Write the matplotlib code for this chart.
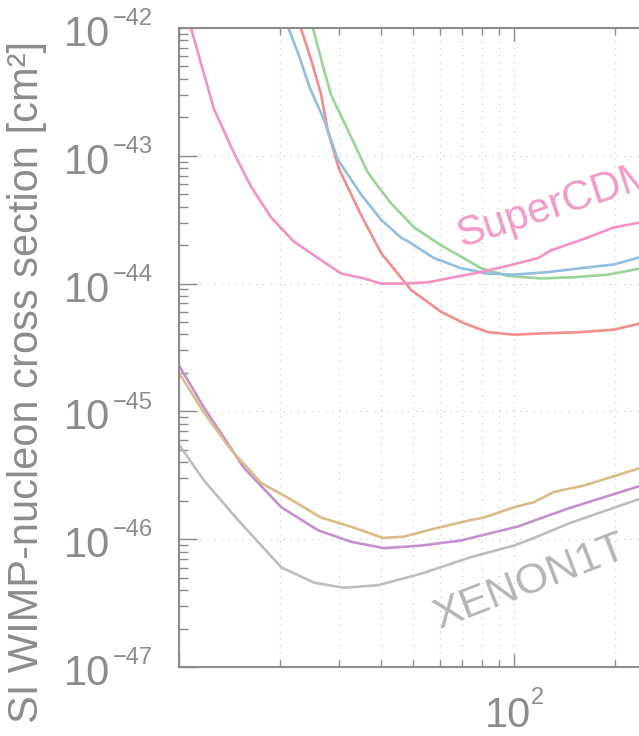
import numpy as np
import matplotlib
matplotlib.use("Agg")
import matplotlib.pyplot as plt
from matplotlib.ticker import FixedLocator, LogLocator, NullFormatter

plt.rcParams["font.family"] = ["Liberation Sans", "DejaVu Sans"]

GREY = "#8c8c8c"

# WIMP mass [GeV] and log10 of the SI cross section [cm^2]
cdms_mass = [10.86, 12.7, 14.6, 16.4, 18.8, 22.0, 26.0, 30.4, 35.7, 40.1, 46.0,
             55.4, 66.2, 79.7, 96.0, 118, 129, 158, 199, 240]
cdms_logsig = [-42.0, -42.63, -42.98, -43.24, -43.48, -43.67, -43.80, -43.92, -43.96,
               -44.0, -44.0, -43.99, -43.95, -43.91, -43.86, -43.80, -43.74, -43.66,
               -43.56, -43.52]

blue_mass = [21.2, 22.7, 24.5, 27.1, 29.8, 34.9, 40.1, 46.0, 48.3, 57.7, 69.5, 79.7,
             81.4, 100, 126.4, 158, 199, 240]
blue_logsig = [-42.0, -42.20, -42.46, -42.72, -43.03, -43.30, -43.50, -43.64, -43.67,
               -43.80, -43.88, -43.91, -43.92, -43.93, -43.91, -43.88, -43.85, -43.79]

green_mass = [25.1, 27.1, 28.4, 32.6, 36.6, 39.3, 42.9, 50.3, 60.5, 72.9, 79.7, 96.0,
              120.4, 151, 190.8, 240]
green_logsig = [-42.0, -42.33, -42.52, -42.85, -43.13, -43.24, -43.37, -43.56, -43.70,
                -43.82, -43.88, -43.94, -43.96, -43.95, -43.93, -43.88]

red_mass = [23.1, 24.8, 26.5, 27.8, 30.0, 34.9, 40.1, 49.3, 60.5, 70.9, 83.6, 100,
            120.4, 158, 199, 240]
red_logsig = [-42.0, -42.25, -42.51, -42.80, -43.10, -43.46, -43.76, -44.05, -44.22,
              -44.31, -44.38, -44.40, -44.39, -44.38, -44.36, -44.31]

tan_mass = [10.0, 11.87, 14.3, 17.6, 21.6, 26.5, 33.3, 40.6, 46.9, 59.3, 74.4, 81.4,
            100, 114.7, 131.6, 161.8, 240]
tan_logsig = [-44.70, -45.01, -45.30, -45.56, -45.69, -45.83, -45.91, -45.99, -45.98,
              -45.91, -45.85, -45.83, -45.75, -45.71, -45.63, -45.58, -45.44]

purple_mass = [10.0, 11.87, 13.35, 15.6, 20.2, 26.0, 32.6, 40.9, 52.8, 69.5, 102.8,
               145, 240]
purple_logsig = [-44.64, -44.97, -45.17, -45.44, -45.75, -45.93, -46.02, -46.07,
                 -46.05, -46.01, -45.90, -45.76, -45.58]

xenon_mass = [10.0, 11.87, 15.0, 20.2, 25.3, 31.1, 39.3, 52.8, 74.4, 100, 114.7, 148, 240]
xenon_logsig = [-45.26, -45.54, -45.85, -46.22, -46.34, -46.38, -46.36, -46.27, -46.14,
                -46.05, -45.99, -45.87, -45.68]

curves = [
    (xenon_mass, xenon_logsig, "#bdbdbd"),
    (purple_mass, purple_logsig, "#c68fd0"),
    (tan_mass, tan_logsig, "#d9bc8c"),
    (red_mass, red_logsig, "#f08e8e"),
    (green_mass, green_logsig, "#9ad49a"),
    (blue_mass, blue_logsig, "#92bfdf"),
    (cdms_mass, cdms_logsig, "#f292c6"),
]

y_decades = [-47, -46, -45, -44, -43, -42]

fig = plt.figure(figsize=(6.39, 7.36), dpi=100)
# axes run past the right edge of the figure, like the cropped original
ax = fig.add_axes([179 / 639, 69 / 736, 670 / 639, 639 / 736])

for m, s, c in curves:
    ax.plot(m, 10.0 ** np.array(s), color=c, lw=1.9,
            solid_capstyle="round", solid_joinstyle="round")

ax.set_xscale("log")
ax.set_yscale("log")
ax.set_xlim(10, 1000)
ax.set_ylim(1e-47, 1e-42)

ax.xaxis.set_major_locator(FixedLocator([10, 100, 1000]))
ax.xaxis.set_minor_locator(LogLocator(base=10, subs=np.arange(2, 10)))
ax.yaxis.set_major_locator(FixedLocator([10.0 ** e for e in y_decades]))
ax.yaxis.set_minor_locator(LogLocator(base=10, subs=np.arange(2, 10), numticks=20))
ax.xaxis.set_minor_formatter(NullFormatter())
ax.yaxis.set_minor_formatter(NullFormatter())

ax.tick_params(which="both", direction="in", color=GREY, width=1,
               top=True, right=False, labelleft=False, labelbottom=False)
ax.tick_params(axis="x", which="major", length=9.5)
ax.tick_params(axis="x", which="minor", length=5)
ax.tick_params(axis="y", which="major", length=13)
ax.tick_params(axis="y", which="minor", length=6.5)

grid_kw = dict(color="#d6d6d6", lw=1.0, ls=(0, (1, 4)))
ax.grid(True, which="major", **grid_kw)
ax.xaxis.grid(True, which="minor", **grid_kw)
ax.set_axisbelow(True)

for side in ["left", "bottom", "top"]:
    ax.spines[side].set_color(GREY)
    ax.spines[side].set_linewidth(1.5)
ax.spines["right"].set_visible(False)

# tick labels as "10" plus a small superscript
for e in y_decades:
    ax.annotate("10", xy=(0, 10.0 ** e), xycoords=("axes fraction", "data"),
                xytext=(-49.5, -13), textcoords="offset points",
                ha="right", va="baseline", fontsize=30, color=GREY)
    ax.annotate("\u2212%d" % -e, xy=(0, 10.0 ** e), xycoords=("axes fraction", "data"),
                xytext=(-18.5, 2), textcoords="offset points",
                ha="right", va="baseline", fontsize=17, color=GREY)

ax.annotate("10", xy=(100, 0), xycoords=("data", "axes fraction"),
            xytext=(-4, -43), textcoords="offset points",
            ha="center", va="baseline", fontsize=30, color=GREY)
ax.annotate("2", xy=(100, 0), xycoords=("data", "axes fraction"),
            xytext=(12, -27), textcoords="offset points",
            ha="left", va="baseline", fontsize=17, color=GREY)

fig.text(0.043, 0.481, "SI WIMP-nucleon cross section [cm\u00b2]", rotation=90,
         ha="center", va="center", fontsize=30, color=GREY)

ax.text(69.5, 10 ** -43.72, "SuperCDMS", rotation=18, rotation_mode="anchor",
        ha="left", va="baseline", fontsize=30, color="#f29ac8")
ax.text(59.7, 10 ** -46.70, "XENON1T", rotation=21, rotation_mode="anchor",
        ha="left", va="baseline", fontsize=31, color="#b5b5b5")

fig.savefig("out.png", dpi=100)
